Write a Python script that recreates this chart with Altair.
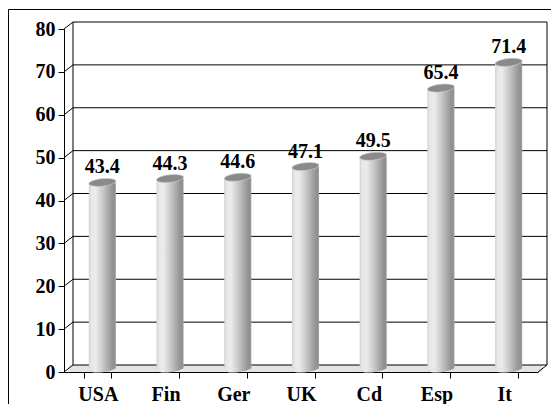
import altair as alt
import pandas as pd

countries = ["USA", "Fin", "Ger", "UK", "Cd", "Esp", "It"]
values = [43.4, 44.3, 44.6, 47.1, 49.5, 65.4, 71.4]
y_ticks = [0, 10, 20, 30, 40, 50, 60, 70, 80]

W, H = 474, 343
DX, DY = 9, 7          # depth of the pseudo-3D frame
HX, HY = DX / 2, DY / 2
BW = W / len(countries) * 0.4
SIZE = BW * BW

bars_df = pd.DataFrame({"country": countries, "value": values})
ticks_df = pd.DataFrame({"v": y_ticks})
base_df = pd.DataFrame({"v": [0], "v2": [80]})

FONT = "Liberation Serif"

xscale = alt.Scale(domain=countries, paddingInner=0.6, paddingOuter=0.3)
yscale = alt.Scale(domain=[0, 80], nice=False)

yaxis = alt.Axis(values=y_ticks, grid=False, domainColor="black", tickColor="black",
                 tickSize=6, labelFont=FONT, labelFontWeight="bold", labelFontSize=20,
                 labelColor="black", labelPadding=3, title=None)
xaxis = alt.Axis(labelAngle=0, tickBand="extent", tickSize=6, grid=False,
                 domainColor="black", tickColor="black", labelFont=FONT,
                 labelFontWeight="bold", labelFontSize=20, labelColor="black",
                 labelPadding=6, title=None)


def yenc(field):
    return alt.Y(field, type="quantitative", scale=yscale, axis=yaxis, title=None)


X = alt.X("country:N", sort=countries, scale=xscale, axis=xaxis, title=None)

grad = alt.LinearGradient(
    gradient="linear", x1=0, x2=1, y1=0, y2=0,
    stops=[
        alt.GradientStop(offset=0.0, color="#d0d0d0"),
        alt.GradientStop(offset=0.08, color="#e6e6e6"),
        alt.GradientStop(offset=0.25, color="#ececec"),
        alt.GradientStop(offset=0.4, color="#d8d8d8"),
        alt.GradientStop(offset=0.55, color="#c4c4c4"),
        alt.GradientStop(offset=0.7, color="#adadad"),
        alt.GradientStop(offset=0.85, color="#979797"),
        alt.GradientStop(offset=0.95, color="#8e8e8e"),
        alt.GradientStop(offset=1.0, color="#aaaaaa"),
    ],
)

ELLIPSE = "M -1 0 A 1 0.28 0 1 0 1 0 A 1 0.28 0 1 0 -1 0 Z"
HALF = "M -1 0 A 1 0.28 0 0 0 1 0 Z"

border = alt.Chart(base_df).mark_rect(fillOpacity=0, stroke="black", strokeWidth=1).encode(
    x=alt.value(-55.5), x2=alt.value(W + 40), y=alt.value(-19.5), y2=alt.value(H + 60))

floor = alt.Chart(base_df).mark_rule(color="#e4e4e4", strokeWidth=DY, strokeCap="butt",
                                     yOffset=-HY).encode(
    x=alt.value(HX), x2=alt.value(W + HX), y=yenc("v"))

grid = alt.Chart(ticks_df).mark_rule(color="black", strokeWidth=1, yOffset=-DY).encode(
    x=alt.value(DX), x2=alt.value(W + DX), y=yenc("v"))

connectors = alt.Chart(ticks_df).mark_rule(color="black", strokeWidth=1, y2Offset=-DY).encode(
    x=alt.value(0), x2=alt.value(DX), y=yenc("v"), y2=alt.Y2("v"))

wall_left = alt.Chart(base_df).mark_rule(color="black", strokeWidth=1, yOffset=-DY,
                                         y2Offset=-DY).encode(
    x=alt.value(DX), y=yenc("v"), y2=alt.Y2("v2"))

wall_right = alt.Chart(base_df).mark_rule(color="black", strokeWidth=1, yOffset=-DY,
                                          y2Offset=-DY).encode(
    x=alt.value(W + DX), y=yenc("v"), y2=alt.Y2("v2"))

floor_right = alt.Chart(base_df).mark_rule(color="black", strokeWidth=1, y2Offset=-DY).encode(
    x=alt.value(W), x2=alt.value(W + DX), y=yenc("v"), y2=alt.Y2("v"))

bars = alt.Chart(bars_df).mark_bar(color=grad, xOffset=HX, yOffset=-HY, y2Offset=-HY).encode(
    x=X, y=yenc("value"))

bottoms = alt.Chart(bars_df).mark_point(shape=HALF, size=SIZE, filled=True, fill=grad,
                                        opacity=1, strokeWidth=0, xOffset=HX, yOffset=-HY,
                                        angle=354).encode(
    x=X, y=alt.datum(0))

tops = alt.Chart(bars_df).mark_point(shape=ELLIPSE, size=SIZE, filled=True, fill="#8a8a8a",
                                     opacity=1, stroke="#cfcfcf", strokeWidth=0.6,
                                     xOffset=HX, yOffset=-HY, angle=354).encode(
    x=X, y=yenc("value"))

labels = alt.Chart(bars_df).mark_text(font=FONT, fontWeight="bold", fontSize=20,
                                      color="black", baseline="alphabetic",
                                      xOffset=HX, dy=-12.5).encode(
    x=X, y=yenc("value"), text=alt.Text("value:Q", format=".1f"))

chart = alt.layer(border, floor, grid, connectors, wall_left, wall_right, floor_right,
                  bars, bottoms, tops, labels).properties(
    width=W, height=H,
    autosize=alt.AutoSizeParams(type="none"),
    padding={"left": 56, "top": 21, "right": 13, "bottom": 32},
    background="white",
).configure_view(stroke=None)

chart.save("out.html", embed_options={"renderer": "svg", "actions": False})
